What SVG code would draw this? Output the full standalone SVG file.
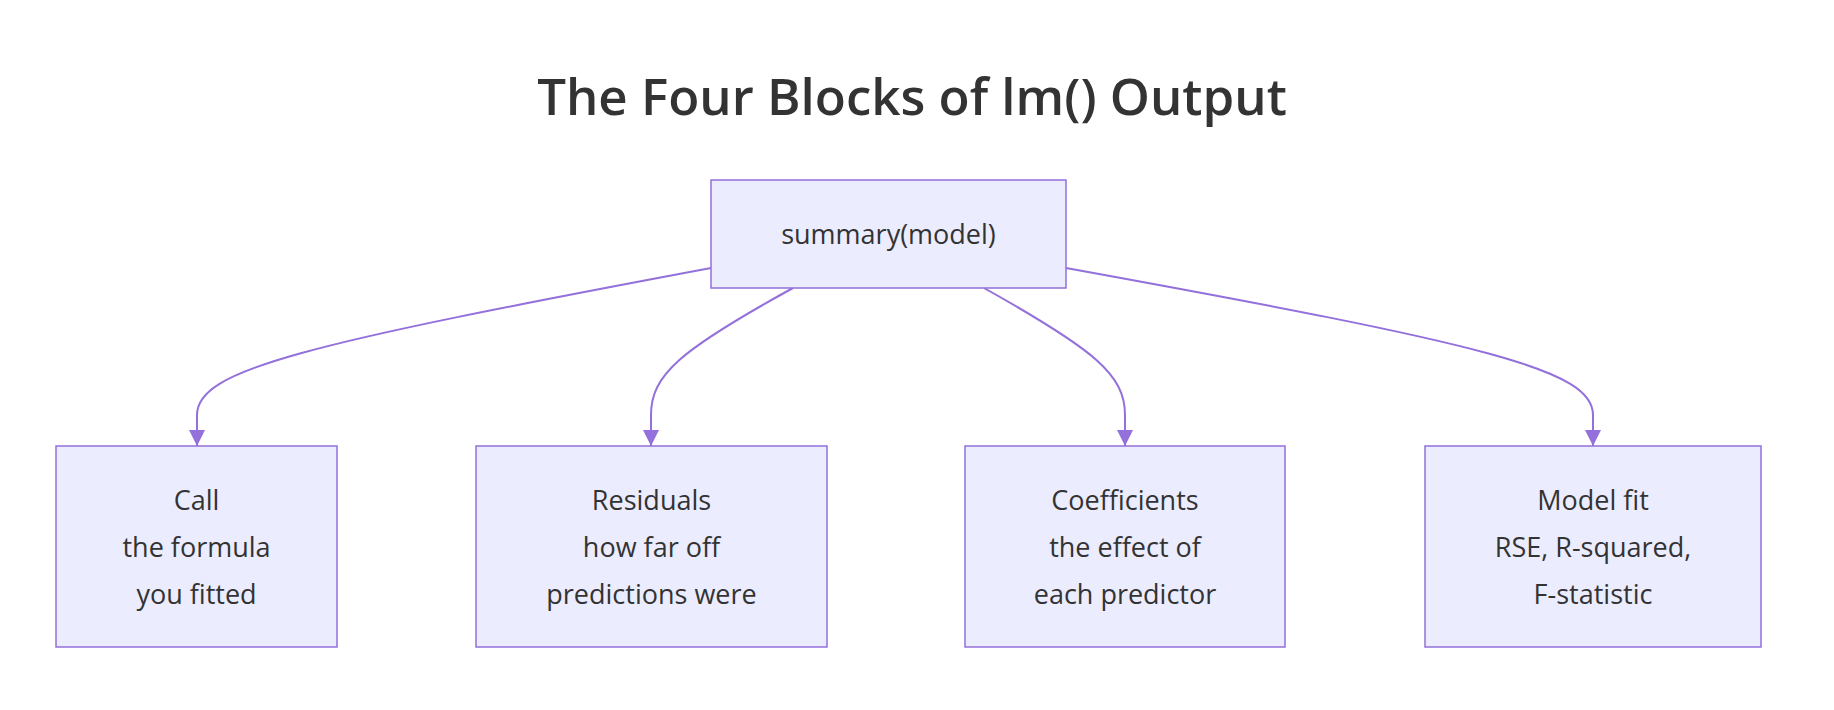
<svg xmlns="http://www.w3.org/2000/svg" width="1834" height="710" viewBox="0 0 1834 710">
<style>
.n rect{fill:#ECECFF;stroke:#9370DB;stroke-width:1.5}
.n text{font-family:"Open Sans","Liberation Sans",sans-serif;font-size:27px;fill:#333;text-anchor:middle}
.e path{fill:none;stroke:#9370DB;stroke-width:2}
</style>
<defs><marker id="a" viewBox="0 0 10 10" refX="10" refY="5" markerWidth="8" markerHeight="8" markerUnits="userSpaceOnUse" orient="auto"><path d="M0,0L10,5L0,10z" fill="#9370DB"/></marker>
<marker id="ar" viewBox="0 0 10 10" refX="10" refY="5" markerWidth="16" markerHeight="16" markerUnits="userSpaceOnUse" orient="auto"><path d="M0,0L10,5L0,10z" fill="#9370DB"/></marker></defs>
<rect width="1834" height="710" fill="#fff"/>
<text x="912" y="115" font-family="'Open Sans','Liberation Sans',sans-serif" font-size="51" font-weight="600" fill="#333" text-anchor="middle">The Four Blocks of lm() Output</text>
<g class="e">
<path marker-end="url(#ar)" d="M711,268 C300,345 197,370 197,415 L197,446"/>
<path marker-end="url(#ar)" d="M793,288 C680,350 651,375 651,415 L651,446"/>
<path marker-end="url(#ar)" d="M984,288 C1095,350 1125,375 1125,415 L1125,446"/>
<path marker-end="url(#ar)" d="M1066,268 C1490,345 1593,370 1593,415 L1593,446"/>
</g>
<g class="n" id="summary"><rect x="711" y="180" width="355" height="108"/><text x="888.5" y="244">summary(model)</text></g>
<g class="n" id="call"><rect x="56" y="446" width="281" height="201"/><text x="196.5" y="510">Call</text><text x="196.5" y="557">the formula</text><text x="196.5" y="604">you fitted</text></g>
<g class="n" id="resid"><rect x="476" y="446" width="351" height="201"/><text x="651.5" y="510">Residuals</text><text x="651.5" y="557">how far off</text><text x="651.5" y="604">predictions were</text></g>
<g class="n" id="coef"><rect x="965" y="446" width="320" height="201"/><text x="1125" y="510">Coefficients</text><text x="1125" y="557">the effect of</text><text x="1125" y="604">each predictor</text></g>
<g class="n" id="fit"><rect x="1425" y="446" width="336" height="201"/><text x="1593" y="510">Model fit</text><text x="1593" y="557">RSE, R-squared,</text><text x="1593" y="604">F-statistic</text></g>
</svg>
